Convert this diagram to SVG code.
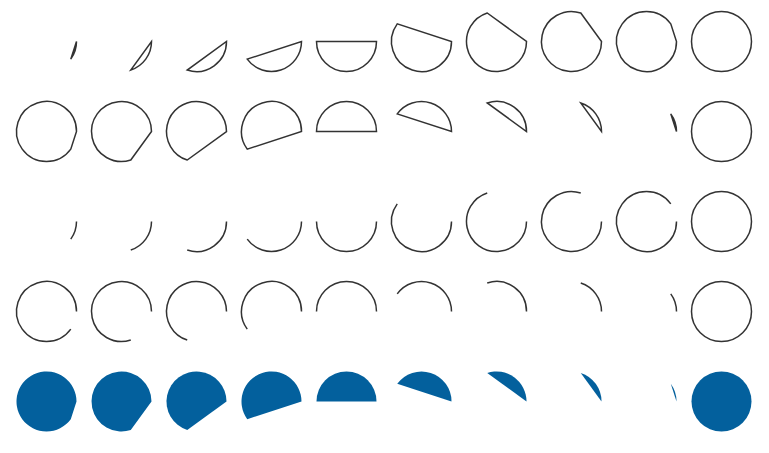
<svg xmlns="http://www.w3.org/2000/svg" xmlns:xlink="http://www.w3.org/1999/xlink" width="769" height="453" viewBox="0 0 769 453">
<style>
.o{fill:none;stroke:#333;stroke-width:1.5}
.f{fill:#03609d;stroke:none}
</style>
<defs>
<path id="a1" d="M30,0 A30,30 0 0 1 24.27,17.634"/>
<path id="a2" d="M30,0 A30,30 0 0 1 9.271,28.532"/>
<path id="a3" d="M30,0 A30,30 0 0 1 -9.271,28.532"/>
<path id="a4" d="M30,0 A30,30 0 0 1 -24.27,17.634"/>
<path id="a5" d="M30,0 A30,30 0 0 1 -30,0"/>
<path id="a6" d="M30,0 A30,30 0 1 1 -24.27,-17.634"/>
<path id="a7" d="M30,0 A30,30 0 1 1 -9.271,-28.532"/>
<path id="a8" d="M30,0 A30,30 0 1 1 9.271,-28.532"/>
<path id="a9" d="M30,0 A30,30 0 1 1 24.27,-17.634"/>
<path id="c1" d="M30,0 A30,30 0 0 1 24.27,17.634Z"/>
<path id="c2" d="M30,0 A30,30 0 0 1 9.271,28.532Z"/>
<path id="c3" d="M30,0 A30,30 0 0 1 -9.271,28.532Z"/>
<path id="c4" d="M30,0 A30,30 0 0 1 -24.27,17.634Z"/>
<path id="c5" d="M30,0 A30,30 0 0 1 -30,0Z"/>
<path id="c6" d="M30,0 A30,30 0 1 1 -24.27,-17.634Z"/>
<path id="c7" d="M30,0 A30,30 0 1 1 -9.271,-28.532Z"/>
<path id="c8" d="M30,0 A30,30 0 1 1 9.271,-28.532Z"/>
<path id="c9" d="M30,0 A30,30 0 1 1 24.27,-17.634Z"/>
<path id="b1" d="M24.27,17.634 A30,30 0 1 1 30,0"/>
<path id="b2" d="M9.271,28.532 A30,30 0 1 1 30,0"/>
<path id="b3" d="M-9.271,28.532 A30,30 0 1 1 30,0"/>
<path id="b4" d="M-24.27,17.634 A30,30 0 1 1 30,0"/>
<path id="b5" d="M-30,0 A30,30 0 0 1 30,0"/>
<path id="b6" d="M-24.27,-17.634 A30,30 0 0 1 30,0"/>
<path id="b7" d="M-9.271,-28.532 A30,30 0 0 1 30,0"/>
<path id="b8" d="M9.271,-28.532 A30,30 0 0 1 30,0"/>
<path id="b9" d="M24.27,-17.634 A30,30 0 0 1 30,0"/>
<path id="d1" d="M24.27,17.634 A30,30 0 1 1 30,0Z"/>
<path id="d2" d="M9.271,28.532 A30,30 0 1 1 30,0Z"/>
<path id="d3" d="M-9.271,28.532 A30,30 0 1 1 30,0Z"/>
<path id="d4" d="M-24.27,17.634 A30,30 0 1 1 30,0Z"/>
<path id="d5" d="M-30,0 A30,30 0 0 1 30,0Z"/>
<path id="d6" d="M-24.27,-17.634 A30,30 0 0 1 30,0Z"/>
<path id="d7" d="M-9.271,-28.532 A30,30 0 0 1 30,0Z"/>
<path id="d8" d="M9.271,-28.532 A30,30 0 0 1 30,0Z"/>
<path id="d9" d="M24.27,-17.634 A30,30 0 0 1 30,0Z"/>
<circle id="full" r="30"/>
</defs>

<g id="row1">
<g id="r1c1" transform="translate(46.5,41.5)"><use href="#c1" class="o"/></g>
<g id="r1c2" transform="translate(121.5,41.5)"><use href="#c2" class="o"/></g>
<g id="r1c3" transform="translate(196.5,41.5)"><use href="#c3" class="o"/></g>
<g id="r1c4" transform="translate(271.5,41.5)"><use href="#c4" class="o"/></g>
<g id="r1c5" transform="translate(346.5,41.5)"><use href="#c5" class="o"/></g>
<g id="r1c6" transform="translate(421.5,41.5)"><use href="#c6" class="o"/></g>
<g id="r1c7" transform="translate(496.5,41.5)"><use href="#c7" class="o"/></g>
<g id="r1c8" transform="translate(571.5,41.5)"><use href="#c8" class="o"/></g>
<g id="r1c9" transform="translate(646.5,41.5)"><use href="#c9" class="o"/></g>
<g id="r1c10" transform="translate(721.5,41.5)"><use href="#full" class="o"/></g>
</g>

<g id="row2">
<g id="r2c1" transform="translate(46.5,131.5)"><use href="#d1" class="o"/></g>
<g id="r2c2" transform="translate(121.5,131.5)"><use href="#d2" class="o"/></g>
<g id="r2c3" transform="translate(196.5,131.5)"><use href="#d3" class="o"/></g>
<g id="r2c4" transform="translate(271.5,131.5)"><use href="#d4" class="o"/></g>
<g id="r2c5" transform="translate(346.5,131.5)"><use href="#d5" class="o"/></g>
<g id="r2c6" transform="translate(421.5,131.5)"><use href="#d6" class="o"/></g>
<g id="r2c7" transform="translate(496.5,131.5)"><use href="#d7" class="o"/></g>
<g id="r2c8" transform="translate(571.5,131.5)"><use href="#d8" class="o"/></g>
<g id="r2c9" transform="translate(646.5,131.5)"><use href="#d9" class="o"/></g>
<g id="r2c10" transform="translate(721.5,131.5)"><use href="#full" class="o"/></g>
</g>

<g id="row3">
<g id="r3c1" transform="translate(46.5,221.5)"><use href="#a1" class="o"/></g>
<g id="r3c2" transform="translate(121.5,221.5)"><use href="#a2" class="o"/></g>
<g id="r3c3" transform="translate(196.5,221.5)"><use href="#a3" class="o"/></g>
<g id="r3c4" transform="translate(271.5,221.5)"><use href="#a4" class="o"/></g>
<g id="r3c5" transform="translate(346.5,221.5)"><use href="#a5" class="o"/></g>
<g id="r3c6" transform="translate(421.5,221.5)"><use href="#a6" class="o"/></g>
<g id="r3c7" transform="translate(496.5,221.5)"><use href="#a7" class="o"/></g>
<g id="r3c8" transform="translate(571.5,221.5)"><use href="#a8" class="o"/></g>
<g id="r3c9" transform="translate(646.5,221.5)"><use href="#a9" class="o"/></g>
<g id="r3c10" transform="translate(721.5,221.5)"><use href="#full" class="o"/></g>
</g>

<g id="row4">
<g id="r4c1" transform="translate(46.5,311.5)"><use href="#b1" class="o"/></g>
<g id="r4c2" transform="translate(121.5,311.5)"><use href="#b2" class="o"/></g>
<g id="r4c3" transform="translate(196.5,311.5)"><use href="#b3" class="o"/></g>
<g id="r4c4" transform="translate(271.5,311.5)"><use href="#b4" class="o"/></g>
<g id="r4c5" transform="translate(346.5,311.5)"><use href="#b5" class="o"/></g>
<g id="r4c6" transform="translate(421.5,311.5)"><use href="#b6" class="o"/></g>
<g id="r4c7" transform="translate(496.5,311.5)"><use href="#b7" class="o"/></g>
<g id="r4c8" transform="translate(571.5,311.5)"><use href="#b8" class="o"/></g>
<g id="r4c9" transform="translate(646.5,311.5)"><use href="#b9" class="o"/></g>
<g id="r4c10" transform="translate(721.5,311.5)"><use href="#full" class="o"/></g>
</g>

<g id="row5">
<g id="r5c1" transform="translate(46.5,401.5)"><use href="#d1" class="f"/></g>
<g id="r5c2" transform="translate(121.5,401.5)"><use href="#d2" class="f"/></g>
<g id="r5c3" transform="translate(196.5,401.5)"><use href="#d3" class="f"/></g>
<g id="r5c4" transform="translate(271.5,401.5)"><use href="#d4" class="f"/></g>
<g id="r5c5" transform="translate(346.5,401.5)"><use href="#d5" class="f"/></g>
<g id="r5c6" transform="translate(421.5,401.5)"><use href="#d6" class="f"/></g>
<g id="r5c7" transform="translate(496.5,401.5)"><use href="#d7" class="f"/></g>
<g id="r5c8" transform="translate(571.5,401.5)"><use href="#d8" class="f"/></g>
<g id="r5c9" transform="translate(646.5,401.5)"><use href="#d9" class="f"/></g>
<g id="r5c10" transform="translate(721.5,401.5)"><use href="#full" class="f"/></g>
</g>

<g id="connectors"/>
</svg>
